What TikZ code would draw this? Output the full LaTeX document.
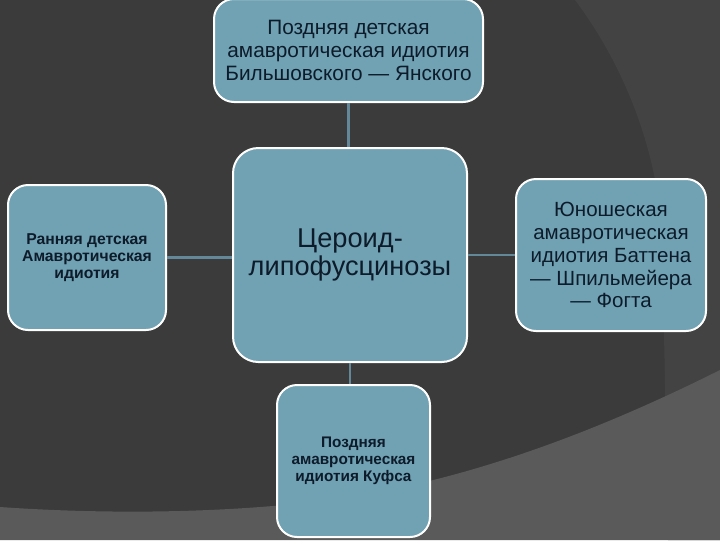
\documentclass[tikz,border=0pt]{standalone}
\usepackage{fontspec}
\setmainfont{Liberation Sans}
\usepackage{xcolor}
\usepackage{tikz}
\usetikzlibrary{
  positioning,
  calc,
}
\definecolor{slidebg}{HTML}{3B3B3B}
\definecolor{bandmid}{HTML}{434343}
\definecolor{bandlow}{HTML}{5A5A5A}
\definecolor{boxfill}{HTML}{70A2B3}
\definecolor{boxtext}{HTML}{0D1B2A}
\definecolor{linkline}{HTML}{62889A}
\tikzset{
  every node/.append style={text=boxtext},
  card/.style={
    draw=white,
    fill=boxfill,
    line width=1.5pt,
    rounded corners=15pt,
    align=center,
    inner sep=0pt,
  },
  link/.style={draw=linkline, line width=1.8pt},
}

\begin{document}
\begin{tikzpicture}[x=0.75pt,y=-0.75pt]
  \useasboundingbox (0,0) rectangle (720,540);

  % background bands
  \fill[slidebg] (0,0) rectangle (720,540);
  \fill[bandmid] (575,0) .. controls (620,60) and (655,140) .. (662,230)
    -- (668,540) -- (720,540) -- (720,0) -- cycle;
  \fill[bandlow] (0,507) .. controls (100,514) and (220,514) .. (330,500)
    .. controls (480,480) and (620,420) .. (720,370)
    -- (720,540) -- (0,540) -- cycle;

  % boxes
  \node[card, minimum width=269*0.75pt, minimum height=103*0.75pt,
        font=\fontsize{15.6}{17.3}\selectfont] (late) at (348.5,50.5)
    {Поздняя детская\\амавротическая идиотия\\Бильшовского — Янского};

  \node[card, rounded corners=19pt, minimum width=234*0.75pt, minimum height=214*0.75pt,
        font=\fontsize{20.4}{21.6}\selectfont] (core) at (350,255)
    {Цероид-\\липофусцинозы};

  \node[card, minimum width=158*0.75pt, minimum height=145*0.75pt,
        font=\bfseries\fontsize{11.8}{12.8}\selectfont] (early) at (87,257.5)
    {Ранняя детская\\Амавротическая\\идиотия};

  \node[card, minimum width=190*0.75pt, minimum height=152*0.75pt,
        font=\fontsize{15.4}{17.2}\selectfont] (juvenile) at (611,255)
    {Юношеская\\амавротическая\\идиотия Баттена\\— Шпильмейера\\— Фогта};

  \node[card, minimum width=153*0.75pt, minimum height=152*0.75pt,
        font=\bfseries\fontsize{11.5}{12.8}\selectfont] (kufs) at (353.5,461)
    {Поздняя\\амавротическая\\идиотия Куфса};

  % connectors
  \draw[link] (late.south) -- (late.south |- core.north);
  \draw[link] (early.east) -- (early.east -| core.west);
  \draw[link] (juvenile.west) -- (juvenile.west -| core.east);
  \draw[link] (core.south) -- (core.south |- kufs.north);
\end{tikzpicture}
\end{document}
